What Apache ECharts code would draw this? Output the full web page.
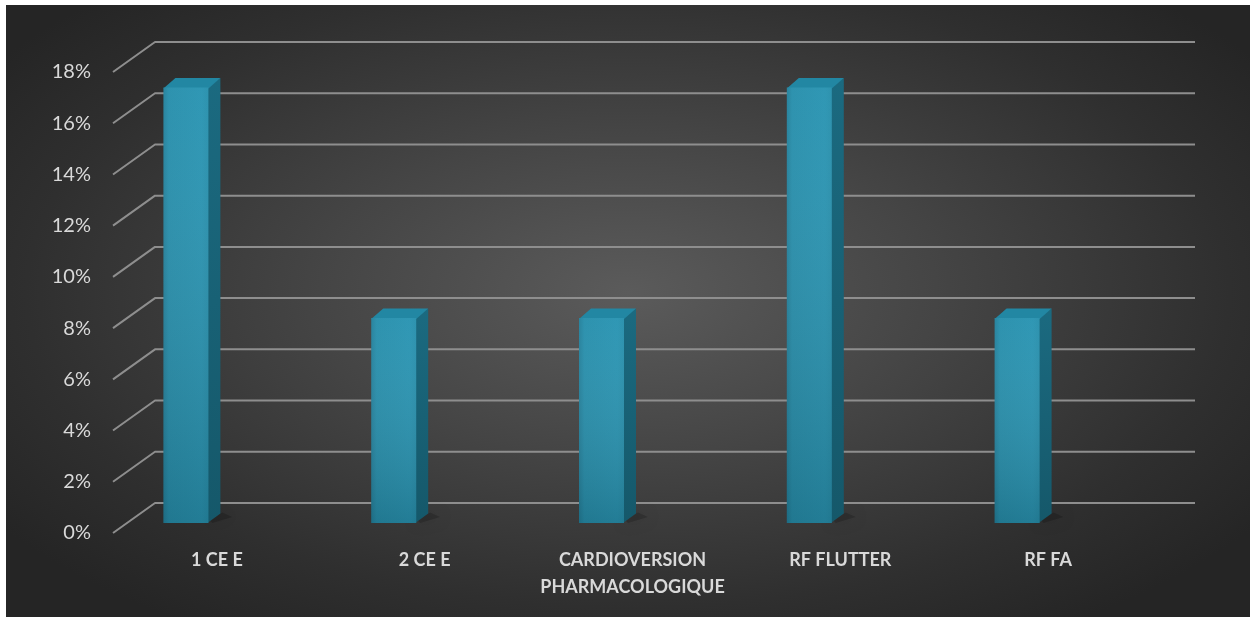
<!DOCTYPE html>
<html>
<head>
<meta charset="utf-8">
<script src="https://cdn.jsdelivr.net/npm/echarts@6/dist/echarts.min.js"></script>
<style>
  html, body { margin: 0; padding: 0; background: #ffffff; }
  #frame {
    position: absolute; left: 6px; top: 5px; width: 1244px; height: 612px;
    background: radial-gradient(ellipse 62% 66% at 50% 47%, #5b5b5b 0%, #454545 40%, #2f2f2f 78%, #252525 100%);
  }
  #chart { position: absolute; left: 0; top: 0; width: 1250px; height: 617px; }
</style>
</head>
<body>
<div id="frame"></div>
<div id="chart"></div>
<script>
// Categories and percentage values
const categories = ['1 CE E', '2 CE E', 'CARDIOVERSION\nPHARMACOLOGIQUE', 'RF FLUTTER', 'RF FA'];
const shares = [17, 8, 8, 17, 8];
const yTicks = [0, 2, 4, 6, 8, 10, 12, 14, 16, 18];

// Pseudo-3D geometry (pixels)
const WALL_DX = 42, WALL_DY = -30;     // back wall offset from the front plane
const FACE_L = -53.5, FACE_R = -8.5;   // bar front face relative to category centre
const LIFT = -10;                       // bar front face depth shift
const DEPTH_DX = 12, DEPTH_DY = -9.5;   // bar depth

const chart = echarts.init(document.getElementById('chart'), null, { renderer: 'canvas' });

const option = {
  backgroundColor: 'transparent',
  animation: false,
  grid: { left: 113, right: 98, top: 72, bottom: 84, containLabel: false },
  xAxis: {
    type: 'category',
    data: categories,
    axisLine: { show: false },
    axisTick: { show: false },
    splitLine: { show: false },
    axisLabel: {
      color: '#d9d9d9',
      fontFamily: 'Lato, "Liberation Sans", sans-serif',
      fontWeight: 'bold',
      fontSize: 18,
      lineHeight: 27,
      margin: 14,
      interval: 0
    }
  },
  yAxis: {
    type: 'value',
    min: 0,
    max: 18,
    interval: 2,
    axisLine: { show: false },
    axisTick: { show: false },
    splitLine: { show: false },
    axisLabel: {
      formatter: '{value}%',
      color: '#d9d9d9',
      fontFamily: 'Lato, "Liberation Sans", sans-serif',
      fontSize: 20,
      margin: 22
    }
  },
  series: [
    {
      // perspective gridlines: left wall diagonal + back wall horizontal
      type: 'custom',
      silent: true,
      z: 1,
      data: yTicks.map(v => [0, v]),
      encode: { x: 0, y: 1 },
      renderItem(params, api) {
        const cs = params.coordSys;
        const y = api.coord([0, api.value(1)])[1];
        const x0 = cs.x, x1 = cs.x + cs.width;
        return {
          type: 'polyline',
          shape: { points: [[x0, y], [x0 + WALL_DX, y + WALL_DY], [x1 + WALL_DX + 1, y + WALL_DY]] },
          style: { stroke: '#8e8e8e', lineWidth: 2, fill: null, lineJoin: 'round' }
        };
      }
    },
    {
      type: 'custom',
      z: 3,
      data: shares.map((v, i) => [i, v]),
      encode: { x: 0, y: 1 },
      renderItem(params, api) {
        const i = api.value(0), v = api.value(1);
        const base = api.coord([i, 0]);
        const top = api.coord([i, v]);
        const xl = base[0] + FACE_L, xr = base[0] + FACE_R;
        const yb = base[1] + LIFT, yt = top[1] + LIFT;
        return {
          type: 'group',
          children: [
            {
              // soft floor shadow
              type: 'polygon',
              shape: { points: [[xr, yb - 4], [xr + DEPTH_DX + 2, yb + DEPTH_DY - 1], [xr + DEPTH_DX + 12, yb - 6], [xr + 4, yb]] },
              style: { fill: 'rgba(0,0,0,0.18)', shadowBlur: 12, shadowColor: 'rgba(0,0,0,0.45)' }
            },
            {
              type: 'polygon',
              shape: { points: [[xr - 1, yt], [xr + DEPTH_DX, yt + DEPTH_DY], [xr + DEPTH_DX, yb + DEPTH_DY], [xr - 1, yb]] },
              style: {
                fill: new echarts.graphic.LinearGradient(0, 0, 0, 1, [
                  { offset: 0, color: '#1b6a80' },
                  { offset: 1, color: '#15586a' }
                ])
              }
            },
            {
              type: 'polygon',
              shape: { points: [[xl, yt + 1], [xl + DEPTH_DX, yt + DEPTH_DY], [xr + DEPTH_DX, yt + DEPTH_DY], [xr, yt + 1]] },
              style: { fill: '#2287a3' }
            },
            {
              type: 'rect',
              shape: { x: xl, y: yt, width: xr - xl, height: yb - yt },
              style: {
                fill: new echarts.graphic.LinearGradient(0, 0, 1, 0, [
                  { offset: 0, color: '#23809b' },
                  { offset: 0.12, color: '#278fac' },
                  { offset: 0.85, color: '#2994b2' },
                  { offset: 1, color: '#278fac' }
                ])
              }
            },
            {
              type: 'rect',
              shape: { x: xl, y: yt, width: xr - xl, height: yb - yt },
              style: {
                fill: new echarts.graphic.LinearGradient(0, 0, 0, 1, [
                  { offset: 0, color: 'rgba(255,255,255,0.03)' },
                  { offset: 1, color: 'rgba(0,0,0,0.16)' }
                ])
              }
            }
          ]
        };
      }
    }
  ]
};

chart.setOption(option);
</script>
</body>
</html>
